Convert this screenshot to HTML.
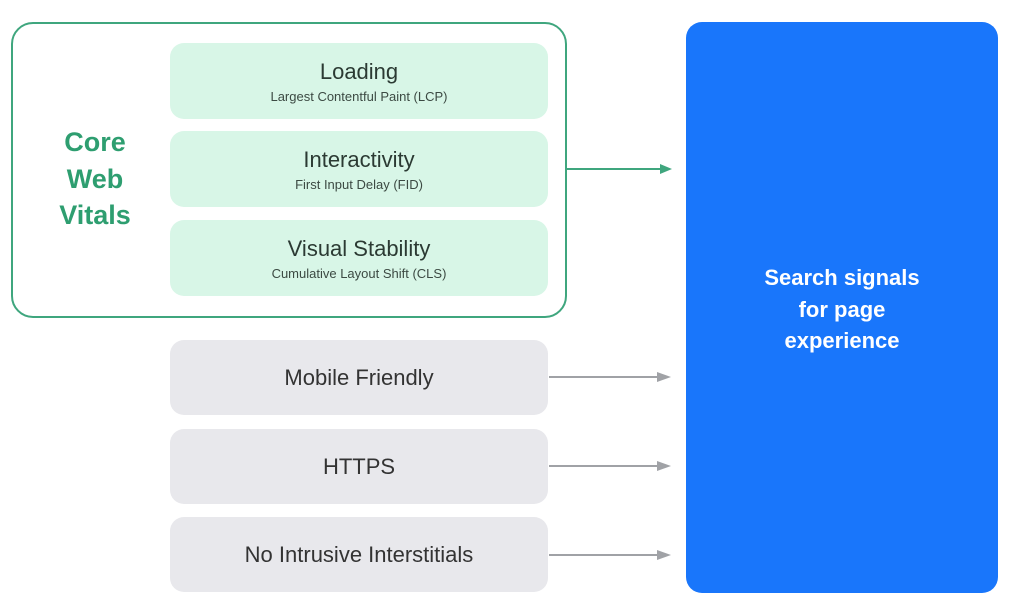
<!DOCTYPE html>
<html><head><style>
body{margin:0;width:1019px;height:616px;background:#fff;position:relative;font-family:"Liberation Sans",sans-serif;overflow:hidden}
.a{position:absolute;box-sizing:border-box}
.g{background:#d8f6e7;border-radius:14px;left:170px;width:378px;height:76px;text-align:center;color:#2b3a33}
.g b{display:block;font-weight:normal;font-size:22px;margin-top:16px}
.g span{display:block;font-size:13px;margin-top:4px;color:#3c4a43}
.y{background:#e8e8ec;border-radius:14px;left:170px;width:378px;height:75px;color:#333;font-size:22px;line-height:75px;text-align:center}
</style></head><body>
<div class="a" style="left:11px;top:22px;width:556px;height:296px;border:2px solid #3fa67e;border-radius:22px"></div>
<div class="a" style="left:40px;top:124px;width:110px;text-align:center;color:#2e9e70;font-size:27px;font-weight:bold;line-height:36.5px">Core<br>Web<br>Vitals</div>
<div class="a g" style="top:43px"><b>Loading</b><span>Largest Contentful Paint (LCP)</span></div>
<div class="a g" style="top:131px"><b>Interactivity</b><span>First Input Delay (FID)</span></div>
<div class="a g" style="top:220px"><b>Visual Stability</b><span>Cumulative Layout Shift (CLS)</span></div>
<div class="a y" style="top:340px">Mobile Friendly</div>
<div class="a y" style="top:429px">HTTPS</div>
<div class="a y" style="top:517px">No Intrusive Interstitials</div>
<div class="a" style="left:686px;top:22px;width:312px;height:571px;background:#1976fb;border-radius:16px"></div>
<div class="a" style="left:686px;top:262px;width:312px;text-align:center;color:#fff;font-weight:bold;font-size:22px;line-height:31.5px">Search signals<br>for page<br>experience</div>
<svg class="a" style="left:0;top:0" width="1019" height="616">
<line x1="567" y1="169" x2="662" y2="169" stroke="#3fa67e" stroke-width="2"/>
<polygon points="660,164 672,169 660,174" fill="#3fa67e"/>
<g stroke="#a0a2a6" stroke-width="2"><line x1="549" y1="377" x2="660" y2="377"/><line x1="549" y1="466" x2="660" y2="466"/><line x1="549" y1="555" x2="660" y2="555"/></g>
<g fill="#a0a2a6"><polygon points="657,372 671,377 657,382"/><polygon points="657,461 671,466 657,471"/><polygon points="657,550 671,555 657,560"/></g>
</svg>
</body></html>
